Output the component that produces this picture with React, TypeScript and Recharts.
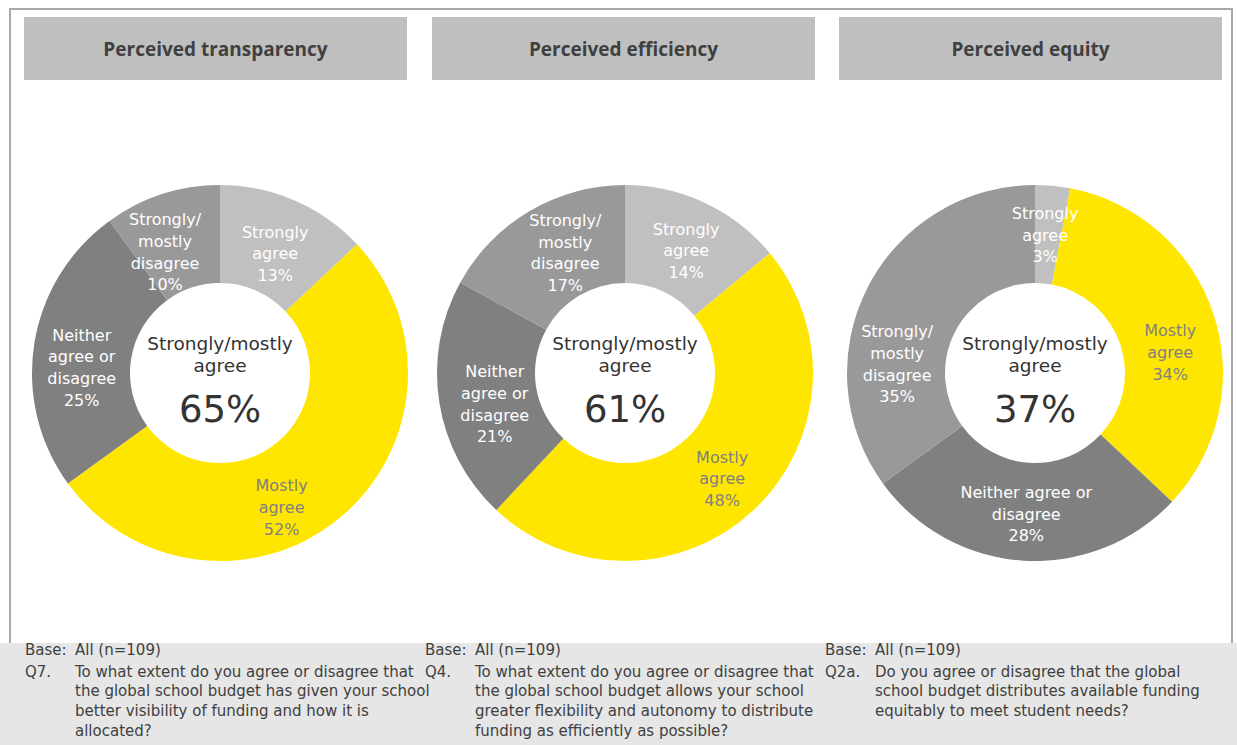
import React from 'react';
import { PieChart, Pie, Cell } from 'recharts';

const categories = ['Strongly agree', 'Mostly agree', 'Neither agree or disagree', 'Strongly/mostly disagree'];
const sliceColors = ['#c0c0c0', '#ffe600', '#808080', '#999999'];
const labelColors = ['#ffffff', '#808080', '#ffffff', '#ffffff'];

const panelTitles = ['Perceived transparency', 'Perceived efficiency', 'Perceived equity'];
const transparencyValues = [13, 52, 25, 10];
const efficiencyValues = [14, 48, 21, 17];
const equityValues = [3, 34, 28, 35];
const agreeTotals = [65, 61, 37];

const transparencyLabelLines = [['Strongly', 'agree'], ['Mostly', 'agree'], ['Neither', 'agree or', 'disagree'], ['Strongly/', 'mostly', 'disagree']];
const efficiencyLabelLines = [['Strongly', 'agree'], ['Mostly', 'agree'], ['Neither', 'agree or', 'disagree'], ['Strongly/', 'mostly', 'disagree']];
const equityLabelLines = [['Strongly', 'agree'], ['Mostly', 'agree'], ['Neither agree or', 'disagree'], ['Strongly/', 'mostly', 'disagree']];

const baseTexts = ['All (n=109)', 'All (n=109)', 'All (n=109)'];
const questionCodes = ['Q7.', 'Q4.', 'Q2a.'];
const questionTexts = [
  ['To what extent do you agree or disagree that', 'the global school budget has given your school', 'better visibility of funding and how it is', 'allocated?'],
  ['To what extent do you agree or disagree that', 'the global school budget allows your school', 'greater flexibility and autonomy to distribute', 'funding as efficiently as possible?'],
  ['Do you agree or disagree that the global', 'school budget distributes available funding', 'equitably to meet student needs?'],
];

// label placement tweaks (dx, dy) relative to the slice mid-point, per panel and slice
const labelNudges = [
  [[0, 8], [-27, 27], [-1, 16], [-12, 11]],
  [[2, 3], [2, 4], [7, 9], [11, -1]],
  [[-3, 0], [3, 22], [0, 2], [-14, 54]],
];

const FONT = '"DejaVu Sans", sans-serif';
const HFONT = '"Open Sans", sans-serif';
const RADIAN = Math.PI / 180;

const panelValues = [transparencyValues, efficiencyValues, equityValues];
const panelLabelLines = [transparencyLabelLines, efficiencyLabelLines, equityLabelLines];

function makeLabel(lines: string[][], nudges: number[][]) {
  return (props: any) => {
    const { cx, cy, midAngle, innerRadius, outerRadius, index, value } = props;
    const r = (innerRadius + outerRadius) / 2;
    const x = cx + r * Math.cos(-midAngle * RADIAN) + nudges[index][0];
    const y = cy + r * Math.sin(-midAngle * RADIAN) + nudges[index][1];
    const textLines = [...lines[index], `${value}%`];
    const lh = 21.7;
    const startY = y - ((textLines.length - 1) * lh) / 2;
    return (
      <text
        key={`lbl-${index}`}
        x={x}
        y={startY}
        textAnchor="middle"
        dominantBaseline="central"
        fill={labelColors[index]}
        fontFamily={FONT}
        fontSize={16}
      >
        {textLines.map((t, i) => (
          <tspan key={i} x={x} y={startY + i * lh}>
            {t}
          </tspan>
        ))}
      </text>
    );
  };
}

const panelLefts = [24, 432, 839];
const chartLefts = [20, 425, 835];
const SIZE = 400;

export default function App() {
  return (
    <div style={{ position: 'absolute', left: 0, top: 0, width: 1237, height: 745, background: '#ffffff', fontFamily: FONT, overflow: 'hidden' }}>
      <div style={{ position: 'absolute', left: 9, top: 8, width: 1220, height: 633, border: '2px solid #a9a9a9', background: '#ffffff' }} />
      {panelTitles.map((t, i) => (
        <div
          key={t}
          style={{
            position: 'absolute',
            left: panelLefts[i],
            top: 17,
            width: 383,
            height: 63,
            background: '#bfbfbf',
            color: '#404040',
            fontWeight: 700,
            fontSize: 19,
            fontFamily: HFONT,
            display: 'flex',
            alignItems: 'center',
            justifyContent: 'center',
          }}
        >
          {t}
        </div>
      ))}
      {panelValues.map((vals, p) => {
        const data = categories.map((c, i) => ({ name: c, value: vals[i] }));
        return (
          <div key={p} style={{ position: 'absolute', left: chartLefts[p], top: 173, width: SIZE, height: SIZE }}>
            <PieChart width={SIZE} height={SIZE} margin={{ top: 0, right: 0, bottom: 0, left: 0 }}>
              <Pie
                data={data}
                dataKey="value"
                nameKey="name"
                cx={SIZE / 2}
                cy={SIZE / 2}
                innerRadius={90}
                outerRadius={188}
                startAngle={90}
                endAngle={-270}
                stroke="none"
                isAnimationActive={false}
                labelLine={false}
                label={makeLabel(panelLabelLines[p], labelNudges[p])}
              >
                {data.map((d, i) => (
                  <Cell key={d.name} fill={sliceColors[i]} />
                ))}
              </Pie>
              <text x={SIZE / 2} y={SIZE / 2 - 30} textAnchor="middle" dominantBaseline="central" fill="#333333" fontFamily={FONT} fontSize={18.5}>
                Strongly/mostly
              </text>
              <text x={SIZE / 2} y={SIZE / 2 - 8} textAnchor="middle" dominantBaseline="central" fill="#333333" fontFamily={FONT} fontSize={18.5}>
                agree
              </text>
              <text x={SIZE / 2} y={SIZE / 2 + 36} textAnchor="middle" dominantBaseline="central" fill="#333333" fontFamily={FONT} fontSize={37}>
                {`${agreeTotals[p]}%`}
              </text>
            </PieChart>
          </div>
        );
      })}
      <div style={{ position: 'absolute', left: 0, top: 643, width: 1237, height: 102, background: '#e6e6e6' }} />
      {questionCodes.map((q, i) => (
        <div key={q} style={{ position: 'absolute', left: 25 + i * 400, top: 641, fontSize: 15, lineHeight: '19.7px', color: '#404040', whiteSpace: 'nowrap' }}>
          <div style={{ display: 'flex' }}>
            <span style={{ width: 50 }}>Base:</span>
            <span>{baseTexts[i]}</span>
          </div>
          <div style={{ display: 'flex', marginTop: 2 }}>
            <span style={{ width: 50 }}>{q}</span>
            <div>
              {questionTexts[i].map((l, k) => (
                <div key={k}>{l}</div>
              ))}
            </div>
          </div>
        </div>
      ))}
    </div>
  );
}
